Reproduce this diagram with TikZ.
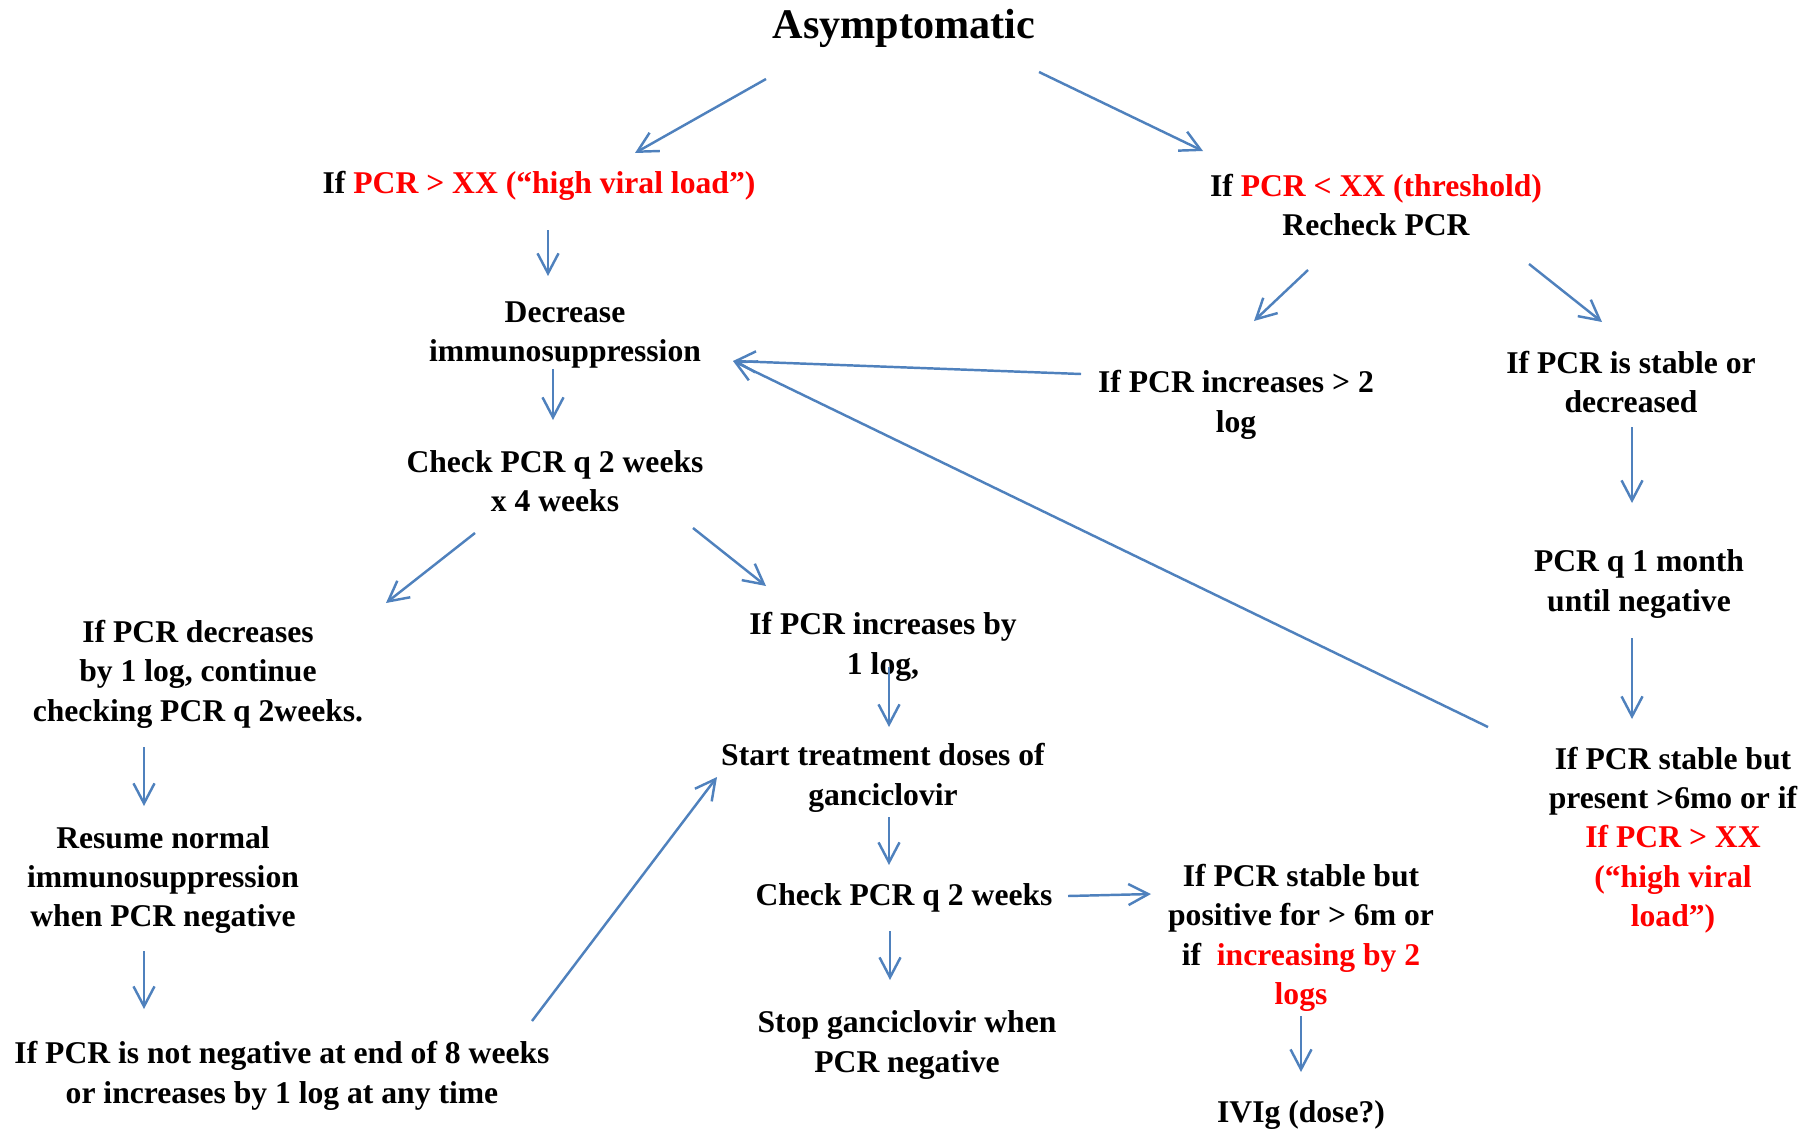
\documentclass[tikz,border=0pt]{standalone}
\usepackage{fontspec}
\setmainfont{Liberation Serif}
\usetikzlibrary{arrows.meta,calc}
\definecolor{flowblue}{RGB}{79,129,189}
\newcommand{\redtxt}[1]{\textcolor{red}{#1}}

\begin{document}
\begin{tikzpicture}[
  x=0.1mm, y=-0.1mm,
  % text blocks, no frames:
  box/.style={align=center, inner sep=0pt,
    font=\fontsize{9}{11.2}\selectfont\bfseries},
  head/.style={inner sep=0pt, font=\fontsize{12}{14}\selectfont\bfseries},
  arr/.style={draw=flowblue, line width=0.7pt,
    -{Straight Barb[length=2mm,width=2.1mm]}}
]
\useasboundingbox (0,0) rectangle (1818,1128);

\node[head] (title) at (904,28) {Asymptomatic};

% high viral load branch
\node[box] (high)   at (539,186) {If \redtxt{PCR > XX (“high viral load”)}};
\node[box] (decr)   at (565,335) {Decrease\\immunosuppression};
\node[box] (check)  at (555,481) {Check PCR q 2 weeks\\x 4 weeks};
\node[box] (dec1)   at (198,674) {If PCR decreases\\by 1 log, continue\\checking PCR q 2weeks.};
\node[box] (resume) at (163,880) {Resume normal\\immunosuppression\\when PCR negative};
\node[box] (notneg) at (282,1076) {If PCR is not negative at end of 8 weeks\\or increases by 1 log at any time};
\node[box] (inc1)   at (883,647) {If PCR increases by\\1 log,};
\node[box] (start)  at (883,778) {Start treatment doses of\\ganciclovir};
\node[box] (check2) at (904,898) {Check PCR q 2 weeks};
\node[box] (stop)   at (907,1045) {Stop ganciclovir when\\PCR negative};
\node[box] (stable2) at (1301,938) {If PCR stable but\\positive for > 6m or\\if \ \redtxt{increasing by 2}\\\redtxt{logs}};
\node[box] (ivig)   at (1301,1115) {IVIg (dose?)};

% threshold branch
\node[box] (low)    at (1376,205) {If \redtxt{PCR < XX (threshold)}\\Recheck PCR};
\node[box] (inc2)   at (1236,405) {If PCR increases > 2\\log};
\node[box] (stable) at (1631,382) {If PCR is stable or\\decreased};
\node[box] (q1)     at (1639,584) {PCR q 1 month\\until negative};
\node[box] (stable6) at (1673,840) {If PCR stable but\\present >6mo or if\\\redtxt{If PCR > XX}\\\redtxt{(“high viral}\\\redtxt{load”)}};

\draw[arr] ($(title)+(-138,51)$) -- ($(high)+(96,-33)$);
\draw[arr] ($(title)+(135,44)$) -- ($(low)+(-173,-54)$);
\draw[arr] ($(high)+(9,44)$) -- ($(high)+(9,90)$);
\draw[arr] ($(decr)+(-12,34)$) -- ($(check)+(-2,-61)$);
\draw[arr] ($(check)+(-80,52)$) -- ($(dec1)+(188,-71)$);
\draw[arr] ($(check)+(138,47)$) -- ($(inc1)+(-117,-61)$);
\draw[arr] ($(dec1)+(-54,73)$) -- ($(resume)+(-19,-74)$);
\draw[arr] ($(resume)+(-19,71)$) -- ($(notneg)+(-138,-67)$);
\draw[arr] ($(notneg)+(250,-55)$) -- ($(start)+(-166,-1)$);
\draw[arr] ($(inc1)+(6,20)$) -- ($(start)+(6,-51)$);
\draw[arr] ($(start)+(6,39)$) -- ($(check2)+(-15,-33)$);
\draw[arr] ($(check2)+(164,-2)$) -- ($(stable2)+(-150,-44)$);
\draw[arr] ($(check2)+(-14,33)$) -- ($(stop)+(-17,-65)$);
\draw[arr] ($(stable2)+(0,78)$) -- ($(ivig)+(0,-43)$);

\draw[arr] ($(low)+(-68,65)$) -- ($(inc2)+(18,-84)$);
\draw[arr] ($(low)+(153,59)$) -- ($(stable)+(-29,-60)$);
\draw[arr] ($(inc2)+(-155,-31)$) -- ($(decr)+(168,26)$);
\draw[arr] ($(stable)+(1,45)$) -- ($(q1)+(-7,-81)$);
\draw[arr] ($(q1)+(-7,54)$) -- ($(stable6)+(-41,-121)$);
\draw[arr] ($(stable6)+(-185,-113)$) -- ($(decr)+(168,26)$);
\end{tikzpicture}
\end{document}
